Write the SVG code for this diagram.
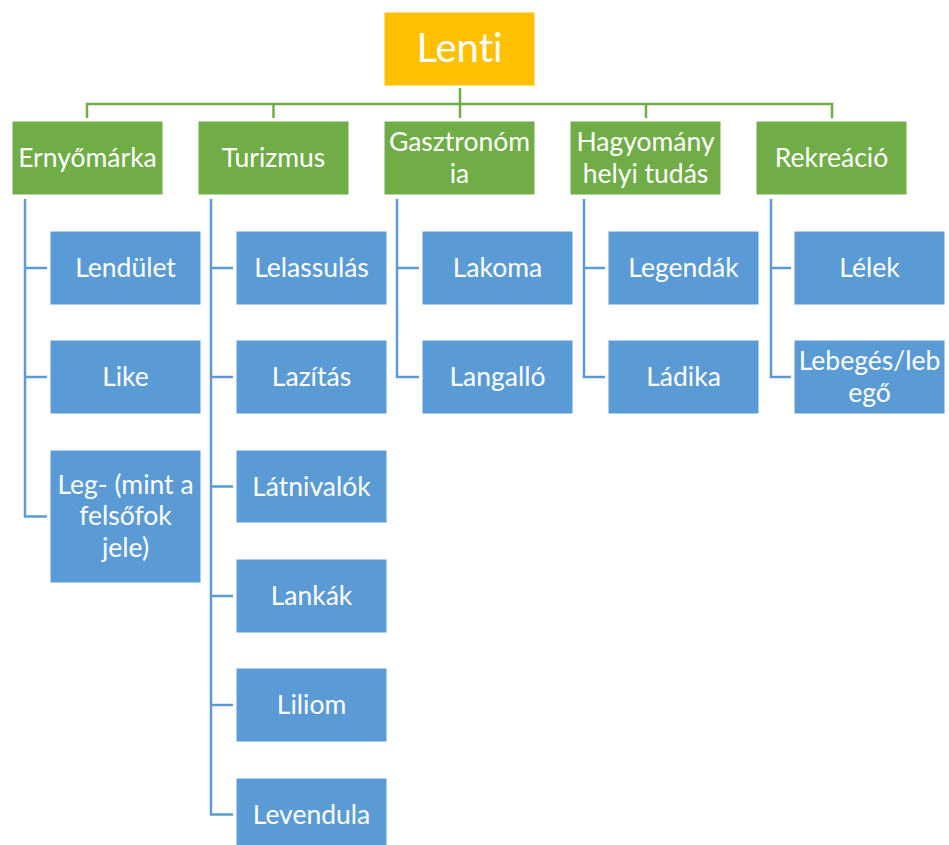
<svg xmlns="http://www.w3.org/2000/svg" width="949" height="845" viewBox="0 0 949 845">
  <style>
    .root { fill: #FFC000; stroke: #ffffff; stroke-width: 1; }
    .cat { fill: #70AD47; stroke: #ffffff; stroke-width: 1; }
    .item { fill: #5B9BD5; stroke: #ffffff; stroke-width: 1; }
    text { font-family: Lato, "Liberation Sans", sans-serif; fill: #ffffff; text-anchor: middle; font-variant-ligatures: none; }
    .t1 { font-size: 40px; }
    .t2 { font-size: 26.5px; }
    .green { fill: none; stroke: #70AD47; stroke-width: 2.5; }
    .blue { fill: none; stroke: #5B9BD5; stroke-width: 2.5; }
  </style>
  <rect width="949" height="845" fill="#ffffff"/>

  <!-- connectors -->
  <g id="connectors">
    <path class="green" d="M460 88 V104 M87 118 V104 H832 V118 M273.5 104 V118 M460 104 V118 M646 104 V118"/>
    <!-- Ernyőmárka branch -->
    <path class="blue" d="M25 199 V516.5 H47 M25 268 H47 M25 377 H47"/>
    <!-- Turizmus branch -->
    <path class="blue" d="M211 199 V814.5 H233 M211 268 H233 M211 377 H233 M211 486.5 H233 M211 596 H233 M211 705 H233"/>
    <!-- Gasztronómia branch -->
    <path class="blue" d="M397 199 V377 H419 M397 268 H419"/>
    <!-- Hagyomány branch -->
    <path class="blue" d="M584 199 V377 H605 M584 268 H605"/>
    <!-- Rekreáció branch -->
    <path class="blue" d="M771 199 V377 H791 M771 268 H791"/>
  </g>

  <!-- root -->
  <g id="lenti">
    <rect class="root" x="384" y="12" width="151" height="74"/>
    <text class="t1" x="459.5" y="62">Lenti</text>
  </g>

  <!-- categories -->
  <g id="ernyomarka">
    <rect class="cat" x="12" y="121" width="151" height="74"/>
    <text class="t2" x="87.5" y="167">Ernyőmárka</text>
  </g>
  <g id="turizmus">
    <rect class="cat" x="198" y="121" width="151" height="74"/>
    <text class="t2" x="273.5" y="167">Turizmus</text>
  </g>
  <g id="gasztronomia">
    <rect class="cat" x="384" y="121" width="151" height="74"/>
    <text class="t2" x="459.5" y="151">Gasztronóm</text>
    <text class="t2" x="459.5" y="183">ia</text>
  </g>
  <g id="hagyomany">
    <rect class="cat" x="570" y="121" width="151" height="74"/>
    <text class="t2" x="645.5" y="151">Hagyomány</text>
    <text class="t2" x="645.5" y="183">helyi tudás</text>
  </g>
  <g id="rekreacio">
    <rect class="cat" x="756" y="121" width="151" height="74"/>
    <text class="t2" x="831.5" y="167">Rekreáció</text>
  </g>

  <!-- Ernyőmárka items -->
  <g id="lendulet">
    <rect class="item" x="50" y="231" width="151" height="74"/>
    <text class="t2" x="125.5" y="277">Lendület</text>
  </g>
  <g id="like">
    <rect class="item" x="50" y="340" width="151" height="74"/>
    <text class="t2" x="125.5" y="386">Like</text>
  </g>
  <g id="leg">
    <rect class="item" x="50" y="450" width="151" height="133"/>
    <text class="t2" x="125.5" y="494">Leg- (mint a</text>
    <text class="t2" x="125.5" y="525">felsőfok</text>
    <text class="t2" x="125.5" y="557">jele)</text>
  </g>

  <!-- Turizmus items -->
  <g id="lelassulas">
    <rect class="item" x="236" y="231" width="151" height="74"/>
    <text class="t2" x="311.5" y="277">Lelassulás</text>
  </g>
  <g id="lazitas">
    <rect class="item" x="236" y="340" width="151" height="74"/>
    <text class="t2" x="311.5" y="386">Lazítás</text>
  </g>
  <g id="latnivalok">
    <rect class="item" x="236" y="450" width="151" height="73"/>
    <text class="t2" x="311.5" y="496">Látnivalók</text>
  </g>
  <g id="lankak">
    <rect class="item" x="236" y="559" width="151" height="74"/>
    <text class="t2" x="311.5" y="605">Lankák</text>
  </g>
  <g id="liliom">
    <rect class="item" x="236" y="668" width="151" height="74"/>
    <text class="t2" x="311.5" y="714">Liliom</text>
  </g>
  <g id="levendula">
    <rect class="item" x="236" y="778" width="151" height="74"/>
    <text class="t2" x="311.5" y="824">Levendula</text>
  </g>

  <!-- Gasztronómia items -->
  <g id="lakoma">
    <rect class="item" x="422" y="231" width="151" height="74"/>
    <text class="t2" x="497.5" y="277">Lakoma</text>
  </g>
  <g id="langallo">
    <rect class="item" x="422" y="340" width="151" height="74"/>
    <text class="t2" x="497.5" y="386">Langalló</text>
  </g>

  <!-- Hagyomány items -->
  <g id="legendak">
    <rect class="item" x="608" y="231" width="151" height="74"/>
    <text class="t2" x="683.5" y="277">Legendák</text>
  </g>
  <g id="ladika">
    <rect class="item" x="608" y="340" width="151" height="74"/>
    <text class="t2" x="683.5" y="386">Ládika</text>
  </g>

  <!-- Rekreáció items -->
  <g id="lelek">
    <rect class="item" x="794" y="231" width="151" height="74"/>
    <text class="t2" x="869.5" y="277">Lélek</text>
  </g>
  <g id="lebeges">
    <rect class="item" x="794" y="340" width="151" height="74"/>
    <text class="t2" x="869.5" y="370">Lebegés/leb</text>
    <text class="t2" x="869.5" y="402">egő</text>
  </g>
</svg>
